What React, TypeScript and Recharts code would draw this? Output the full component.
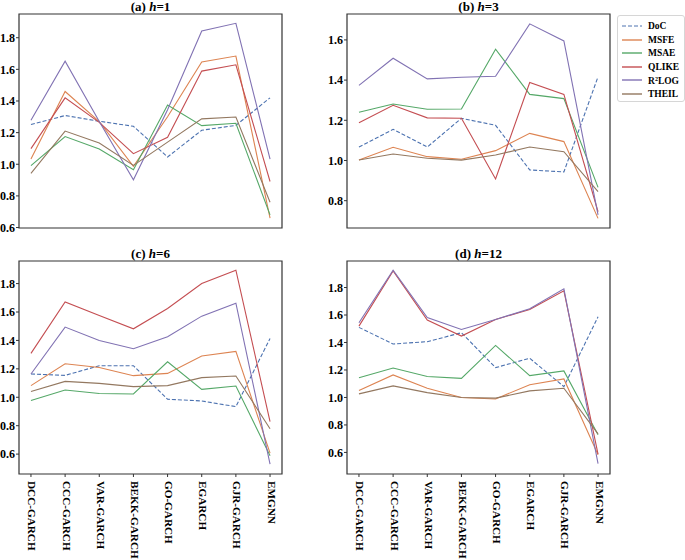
import { LineChart, Line, XAxis, YAxis, ReferenceArea, Legend } from "recharts";

const FONT = "'Liberation Serif', 'DejaVu Serif', 'Times New Roman', serif";

const models = [
  "DCC-GARCH",
  "CCC-GARCH",
  "VAR-GARCH",
  "BEKK-GARCH",
  "GO-GARCH",
  "EGARCH",
  "GJR-GARCH",
  "EMGNN",
];

// (a) h=1
const doc1 = [1.251, 1.308, 1.272, 1.24, 1.046, 1.215, 1.246, 1.42];
const msfe1 = [1.033, 1.46, 1.27, 0.987, 1.3, 1.646, 1.684, 0.659];
const msae1 = [0.991, 1.175, 1.096, 0.965, 1.375, 1.244, 1.259, 0.68];
const qlike1 = [1.099, 1.42, 1.265, 1.067, 1.17, 1.589, 1.629, 0.891];
const r2log1 = [1.278, 1.652, 1.27, 0.902, 1.345, 1.842, 1.891, 1.033];
const theil1 = [0.942, 1.21, 1.134, 0.993, 1.14, 1.287, 1.299, 0.76];

// (b) h=3
const doc3 = [1.067, 1.155, 1.067, 1.21, 1.175, 0.953, 0.943, 1.417];
const msfe3 = [1.002, 1.066, 1.019, 1.006, 1.049, 1.135, 1.094, 0.712];
const msae3 = [1.24, 1.281, 1.255, 1.256, 1.554, 1.329, 1.308, 0.866];
const qlike3 = [1.188, 1.275, 1.212, 1.21, 0.908, 1.388, 1.329, 0.745];
const r2log3 = [1.374, 1.509, 1.406, 1.414, 1.419, 1.68, 1.595, 0.729];
const theil3 = [1.002, 1.032, 1.011, 1.002, 1.027, 1.067, 1.044, 0.845];

// (c) h=6
const doc6 = [1.164, 1.154, 1.222, 1.222, 0.986, 0.974, 0.934, 1.414];
const msfe6 = [1.082, 1.236, 1.21, 1.152, 1.168, 1.29, 1.323, 0.607];
const msae6 = [0.977, 1.051, 1.026, 1.023, 1.25, 1.056, 1.079, 0.588];
const qlike6 = [1.309, 1.671, 1.575, 1.482, 1.625, 1.8, 1.894, 0.829];
const r2log6 = [1.164, 1.494, 1.4, 1.342, 1.426, 1.571, 1.662, 0.53];
const theil6 = [1.04, 1.112, 1.098, 1.075, 1.082, 1.138, 1.15, 0.778];

// (d) h=12
const doc12 = [1.51, 1.389, 1.406, 1.471, 1.217, 1.285, 1.079, 1.587];
const msfe12 = [1.05, 1.164, 1.067, 1.0, 0.989, 1.093, 1.135, 0.583];
const msae12 = [1.144, 1.214, 1.152, 1.139, 1.379, 1.159, 1.193, 0.728];
const qlike12 = [1.519, 1.921, 1.563, 1.447, 1.568, 1.64, 1.776, 0.588];
const r2log12 = [1.544, 1.926, 1.582, 1.495, 1.568, 1.645, 1.79, 0.518];
const theil12 = [1.026, 1.084, 1.035, 1.0, 0.995, 1.048, 1.067, 0.735];

const ticksFull = [0.6, 0.8, 1.0, 1.2, 1.4, 1.6, 1.8];
const ticksH3 = [0.8, 1.0, 1.2, 1.4, 1.6];

const series = [
  { key: "DoC", color: "#4c72b0", dash: "4 2" },
  { key: "MSFE", color: "#dd8452" },
  { key: "MSAE", color: "#55a868" },
  { key: "QLIKE", color: "#c44e52" },
  { key: "R2LOG", color: "#8172b3" },
  { key: "THEIL", color: "#937860" },
];

const X_DOMAIN: [number, number] = [-0.35, 7.35];
const X_TICKS = models.map((_, i) => i);

function buildRows(values: number[][]) {
  return models.map((m, i) => {
    const row: Record<string, number | string> = { i, model: m };
    series.forEach((s, k) => {
      row[s.key] = values[k][i];
    });
    return row;
  });
}

function RotTick(props: any) {
  const { x, y, payload } = props;
  const label = models[payload.value] ?? "";
  const tx = x + 1.5;
  return (
    <text
      x={tx}
      y={y}
      transform={`rotate(90, ${tx}, ${y})`}
      textAnchor="start"
      dominantBaseline="central"
      fontFamily={FONT}
      fontWeight="bold"
      fontSize={11.2}
      fill="#000"
    >
      {label}
    </text>
  );
}

// panel title drawn above the frame
function PanelTitle(props: any) {
  const { viewBox, tag, h } = props;
  if (!viewBox) return null;
  const cx = viewBox.x + viewBox.width / 2;
  return (
    <text
      x={cx}
      y={viewBox.y - 3.5}
      textAnchor="middle"
      fontFamily={FONT}
      fontWeight="bold"
      fontSize={13}
      fill="#000"
    >
      ({tag}) <tspan fontStyle="italic">h</tspan>={h}
    </text>
  );
}

function LegendBox() {
  return (
    <div
      style={{
        width: 68,
        height: 87,
        boxSizing: "border-box",
        border: "1px solid #d6d6d6",
        borderRadius: 3,
        background: "rgba(255,255,255,0.8)",
        paddingTop: 3.5,
        paddingLeft: 3,
        fontFamily: FONT,
        fontWeight: "bold",
        fontSize: 9.5,
        color: "#000",
      }}
    >
      {series.map((s) => (
        <div
          key={s.key}
          style={{ height: 13.5, display: "flex", alignItems: "center" }}
        >
          <svg width={27} height={6} style={{ flex: "none" }}>
            <line
              x1={1}
              x2={21}
              y1={3}
              y2={3}
              stroke={s.color}
              strokeWidth={s.dash ? 1 : 2}
              strokeOpacity={s.dash ? 1 : 0.7}
              strokeDasharray={s.dash}
            />
          </svg>
          <span style={{ lineHeight: "10px", whiteSpace: "nowrap" }}>
            {s.key === "R2LOG" ? (
              <>
                R<sup style={{ fontSize: 6, verticalAlign: 3 }}>2</sup>LOG
              </>
            ) : (
              s.key
            )}
          </span>
        </div>
      ))}
    </div>
  );
}

type PanelProps = {
  tag: string;
  h: number;
  values: number[][];
  yDomain: [number, number];
  yTicks: number[];
  left: number;
  top: number;
  yWidth: number;
  width: number;
  marginRight: number;
  height: number;
  bottom: boolean;
  legend?: boolean;
};

function Panel(p: PanelProps) {
  const rows = buildRows(p.values);
  return (
    <div style={{ position: "absolute", left: p.left, top: p.top }}>
      <LineChart
        width={p.width}
        height={p.height}
        data={rows}
        margin={{ top: 14, right: p.marginRight, bottom: p.bottom ? 0 : 12, left: 0 }}
      >
        <XAxis
          dataKey="i"
          type="number"
          domain={X_DOMAIN}
          ticks={X_TICKS}
          interval={0}
          allowDataOverflow
          hide={!p.bottom}
          height={86}
          axisLine={false}
          tickSize={3}
          tickMargin={4}
          tickLine={{ stroke: "#333" }}
          tick={<RotTick />}
        />
        <YAxis
          type="number"
          domain={p.yDomain}
          ticks={p.yTicks}
          interval={0}
          allowDataOverflow
          width={p.yWidth}
          axisLine={false}
          tickSize={3}
          tickMargin={1}
          tickLine={{ stroke: "#333" }}
          tickFormatter={(v: number) => v.toFixed(1)}
          tick={{ fill: "#000", fontSize: 12, fontWeight: "bold", fontFamily: FONT }}
        />
        <ReferenceArea
          x1={X_DOMAIN[0]}
          x2={X_DOMAIN[1]}
          y1={p.yDomain[0]}
          y2={p.yDomain[1]}
          fill="none"
          stroke="#333"
          strokeWidth={1.2}
          ifOverflow="visible"
          label={<PanelTitle tag={p.tag} h={p.h} />}
        />
        {series.map((s) => (
          <Line
            key={s.key}
            dataKey={s.key}
            name={s.key}
            stroke={s.color}
            strokeWidth={1.1}
            strokeDasharray={s.dash}
            dot={false}
            activeDot={false}
            isAnimationActive={false}
          />
        ))}
        {p.legend && (
          <Legend
            layout="vertical"
            align="center"
            verticalAlign="middle"
            content={() => <LegendBox />}
            wrapperStyle={{ left: 617 - p.left, top: 15, width: 68, height: 87 }}
          />
        )}
      </LineChart>
    </div>
  );
}

export default function App() {
  return (
    <div
      style={{
        position: "absolute",
        left: 0,
        top: 0,
        width: 685,
        height: 560,
        background: "#fff",
        overflow: "hidden",
      }}
    >
      <Panel
        tag="a"
        h={1}
        values={[doc1, msfe1, msae1, qlike1, r2log1, theil1]}
        yDomain={[0.597, 1.95]}
        yTicks={ticksFull}
        left={0}
        top={0}
        yWidth={19}
        width={290}
        marginRight={8}
        height={240}
        bottom={false}
      />
      <Panel
        tag="b"
        h={3}
        values={[doc3, msfe3, msae3, qlike3, r2log3, theil3]}
        yDomain={[0.664, 1.729]}
        yTicks={ticksH3}
        left={320}
        top={0}
        yWidth={27}
        width={365}
        marginRight={75}
        height={240}
        bottom={false}
        legend
      />
      <Panel
        tag="c"
        h={6}
        values={[doc6, msfe6, msae6, qlike6, r2log6, theil6]}
        yDomain={[0.46, 1.959]}
        yTicks={ticksFull}
        left={0}
        top={247}
        yWidth={19}
        width={290}
        marginRight={8}
        height={313}
        bottom
      />
      <Panel
        tag="d"
        h={12}
        values={[doc12, msfe12, msae12, qlike12, r2log12, theil12]}
        yDomain={[0.443, 1.993]}
        yTicks={ticksFull}
        left={320}
        top={247}
        yWidth={27}
        width={365}
        marginRight={75}
        height={313}
        bottom
      />
    </div>
  );
}
